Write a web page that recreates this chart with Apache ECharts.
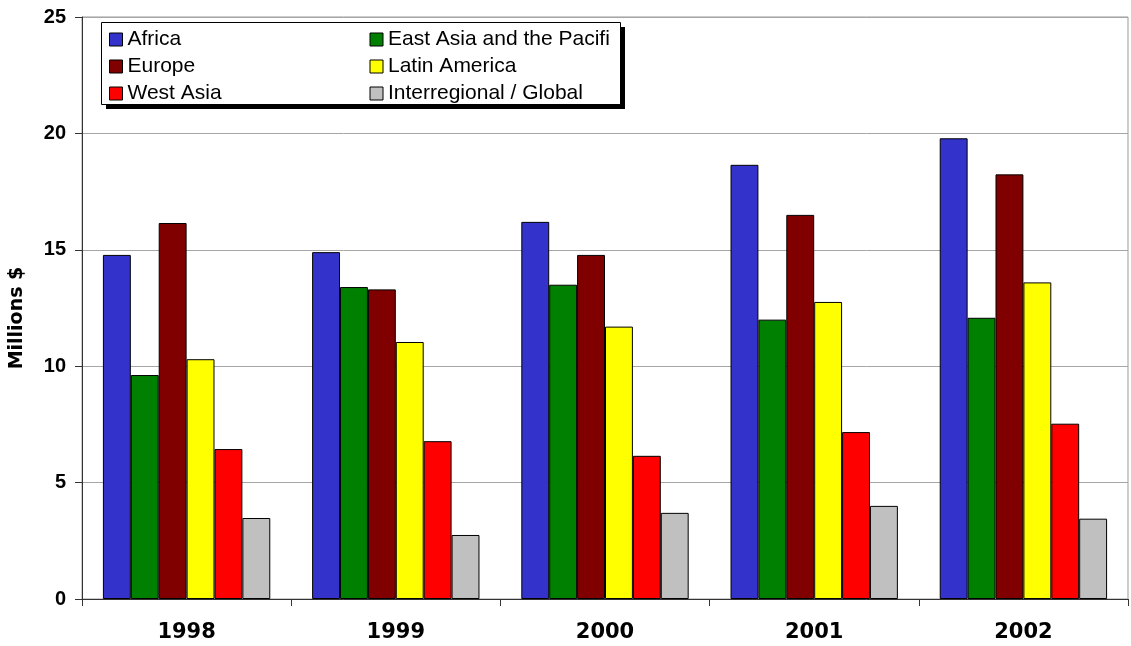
<!DOCTYPE html>
<html>
<head>
<meta charset="utf-8">
<script src="https://cdn.jsdelivr.net/npm/echarts@6/dist/echarts.min.js"></script>
<style>
  html, body { margin: 0; padding: 0; background: #fff; }
  #chart { width: 1131px; height: 646px; }
</style>
</head>
<body>
<div id="chart"></div>
<script>
// Years on the category axis
const years = ['1998', '1999', '2000', '2001', '2002'];

// Funding by region, millions of dollars
const africa        = [14.78, 14.90, 16.20, 18.65, 19.79];
const eastAsia      = [9.62, 13.40, 13.50, 12.00, 12.08];
const europe        = [16.15, 13.30, 14.78, 16.50, 18.24];
const latinAmerica  = [10.30, 11.04, 11.70, 12.76, 13.60];
const westAsia      = [6.44, 6.78, 6.15, 7.17, 7.53];
const interregional = [3.48, 2.75, 3.70, 4.00, 3.45];

// Value axis ticks
const yMin = 0, yMax = 25, yStep = 5;

const seriesDefs = [
  { name: 'Africa', data: africa, color: '#3333cc' },
  { name: 'East Asia and the Pacific', data: eastAsia, color: '#008000' },
  { name: 'Europe', data: europe, color: '#800000' },
  { name: 'Latin America', data: latinAmerica, color: '#ffff00' },
  { name: 'West Asia', data: westAsia, color: '#ff0000' },
  { name: 'Interregional / Global', data: interregional, color: '#c0c0c0' }
];

const sans = "'Liberation Sans', Arial, sans-serif";
const wide = "'DejaVu Sans', Verdana, sans-serif";

// Legend frame: white box with a hard black drop shadow behind it
const legendBox = { x: 101, y: 22, w: 519, h: 82 };
const shadowOffset = 5;

const chart = echarts.init(document.getElementById('chart'), null, { renderer: 'canvas' });
chart.setOption({
  animation: false,
  backgroundColor: '#ffffff',
  grid: {
    left: 81, right: 3, top: 17, bottom: 47,
    show: true, borderColor: '#999', borderWidth: 1
  },
  graphic: [{
    type: 'rect',
    z: 3,
    shape: {
      x: legendBox.x + shadowOffset, y: legendBox.y + shadowOffset,
      width: legendBox.w, height: legendBox.h
    },
    style: { fill: '#000' }
  }, {
    type: 'rect',
    z: 3,
    shape: {
      x: legendBox.x + 0.5, y: legendBox.y + 0.5,
      width: legendBox.w, height: legendBox.h
    },
    style: { fill: '#fff', stroke: '#000', lineWidth: 1 }
  }],
  legend: {
    left: legendBox.x, top: legendBox.y, width: 530,
    orient: 'horizontal',
    padding: [7, 0, 0, 8],
    itemWidth: 13, itemHeight: 13, itemGap: 6,
    icon: 'rect',
    itemStyle: { borderColor: '#000', borderWidth: 1 },
    textStyle: {
      fontFamily: sans, fontSize: 21, color: '#000',
      width: 231, lineHeight: 21, overflow: 'truncate', ellipsis: '',
      padding: [0, 5, 0, 0]
    },
    data: seriesDefs.map(s => s.name)
  },
  xAxis: {
    type: 'category',
    data: years,
    boundaryGap: true,
    axisLine: { lineStyle: { color: '#333', width: 1 } },
    axisTick: { show: true, length: 7, lineStyle: { color: '#333' } },
    axisLabel: {
      fontFamily: wide, fontSize: 21, fontWeight: 'bold', color: '#000', margin: 23
    },
    splitLine: { show: false }
  },
  yAxis: {
    type: 'value',
    min: yMin, max: yMax, interval: yStep,
    name: 'Millions $',
    nameLocation: 'middle',
    nameGap: 55,
    nameRotate: 90,
    nameTextStyle: {
      fontFamily: wide, fontSize: 19, fontWeight: 'bold', color: '#000',
      padding: [0, 20, 0, 0]
    },
    axisLine: { show: true, lineStyle: { color: '#333', width: 1 } },
    axisTick: { show: true, length: 7, lineStyle: { color: '#333' } },
    axisLabel: {
      fontFamily: sans, fontSize: 20, fontWeight: 'bold', color: '#000', margin: 16
    },
    splitLine: { show: true, lineStyle: { color: '#a6a6a6', width: 1 } }
  },
  series: seriesDefs.map(s => ({
    name: s.name,
    type: 'bar',
    data: s.data,
    barGap: '0%',
    barCategoryGap: '20%',
    itemStyle: { color: s.color, borderColor: '#000', borderWidth: 1 }
  }))
});
</script>
</body>
</html>
